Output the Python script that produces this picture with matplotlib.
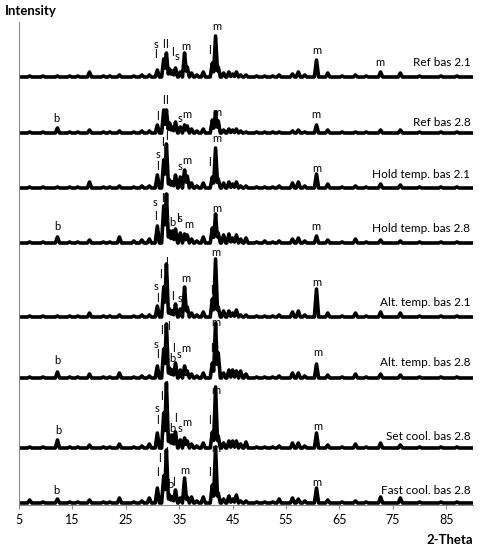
import numpy as np
import matplotlib
matplotlib.use("Agg")
import matplotlib.pyplot as plt

plt.rcParams["font.family"] = ["Lato", "DejaVu Sans"]

# 2-theta positions of the reflections
peak_pos = [7.0, 9.5, 12.2, 14.5, 16.0, 18.2, 20.8, 22.0, 23.8, 26.5, 28.0, 29.4,
            30.9, 32.1, 32.6, 33.2, 33.7, 34.3, 35.2, 36.0, 36.5, 37.3, 38.3, 39.5,
            41.2, 41.8, 42.3, 43.3, 44.3, 45.0, 45.7, 46.5, 47.5, 49.5, 51.0, 52.5,
            53.7, 56.2, 57.3, 58.5, 60.7, 62.8, 65.5, 68.0, 70.0, 72.7, 76.4, 80.0,
            84.0, 87.0]

sample_names = ["Ref bas 2.1", "Ref bas 2.8", "Hold temp. bas 2.1", "Hold temp. bas 2.8",
                "Alt. temp. bas 2.1", "Alt. temp. bas 2.8", "Set cool. bas 2.8",
                "Fast cool. bas 2.8"]

# vertical offset of each pattern (arbitrary intensity units)
offsets = [428, 372, 317, 262, 188, 127, 57, 2]

ref_21 = [1, 1, 1, 1, 1, 5, 1, 1, 2, 1, 2, 2,
          7, 18, 24, 8, 6, 9, 5, 24, 10, 4, 2, 5,
          14, 41, 10, 4, 5, 3, 5, 2, 2, 1, 1, 1,
          2, 3, 5, 2, 17, 4, 1, 2, 1, 5, 4, 1, 1, 1]
ref_28 = [1, 1, 5, 1, 1, 3, 1, 1, 2, 1, 2, 2,
          8, 23, 23, 10, 6, 11, 6, 8, 7, 4, 2, 4,
          13, 21, 12, 3, 4, 3, 4, 2, 1, 1, 1, 1,
          1, 2, 3, 1, 8, 3, 1, 1, 1, 3, 3, 1, 1, 1]
hold_21 = [1, 1, 1, 1, 1, 6, 1, 1, 2, 1, 2, 2,
           13, 28, 44, 8, 6, 13, 11, 18, 12, 5, 2, 5,
           11, 40, 9, 5, 6, 4, 6, 2, 2, 1, 1, 1,
           2, 5, 6, 2, 14, 4, 1, 2, 1, 4, 3, 1, 1, 1]
hold_28 = [1, 1, 6, 1, 1, 3, 1, 1, 6, 2, 3, 4,
           17, 37, 49, 12, 12, 14, 10, 9, 8, 4, 2, 6,
           15, 29, 10, 8, 9, 5, 8, 4, 5, 1, 2, 1,
           2, 4, 5, 2, 7, 3, 1, 4, 1, 3, 2, 1, 1, 1]
alt_21 = [1, 1, 1, 1, 1, 4, 1, 1, 2, 1, 2, 2,
          11, 30, 53, 8, 6, 13, 8, 30, 10, 4, 2, 5,
          18, 58, 10, 6, 6, 4, 7, 2, 2, 1, 1, 1,
          2, 5, 6, 2, 28, 4, 1, 4, 1, 5, 4, 1, 1, 1]
alt_28 = [1, 1, 6, 1, 1, 4, 1, 1, 5, 1, 2, 2,
          12, 29, 54, 10, 8, 15, 8, 12, 7, 4, 2, 5,
          15, 55, 25, 5, 8, 8, 7, 7, 4, 1, 1, 1,
          2, 5, 5, 2, 14, 3, 1, 4, 1, 4, 3, 1, 1, 1]
set_28 = [1, 1, 8, 1, 1, 3, 1, 1, 4, 1, 2, 4,
          15, 35, 65, 13, 13, 16, 8, 10, 7, 4, 2, 5,
          16, 61, 12, 5, 7, 7, 7, 4, 6, 1, 1, 1,
          2, 5, 5, 2, 15, 3, 1, 4, 1, 5, 3, 1, 1, 1]
fast_28 = [3, 1, 4, 1, 1, 3, 1, 1, 5, 1, 2, 5,
           15, 27, 53, 8, 6, 13, 5, 25, 6, 6, 2, 6,
           18, 56, 10, 4, 7, 4, 8, 2, 2, 1, 1, 1,
           4, 5, 4, 2, 15, 3, 1, 2, 1, 6, 5, 1, 1, 1]

patterns = [ref_21, ref_28, hold_21, hold_28, alt_21, alt_28, set_28, fast_28]

# phase marks: (letter, 2-theta, height above the pattern's baseline)
marks = [
    [("s", 30.6, 33), ("l", 30.6, 22), ("l", 32.0, 33), ("l", 32.7, 33), ("l", 33.8, 25),
     ("s", 34.6, 20), ("m", 36.2, 30), ("l", 40.7, 26), ("m", 42.0, 50), ("m", 60.7, 26),
     ("m", 72.5, 15)],
    [("b", 12.0, 15), ("l", 30.9, 16), ("l", 32.0, 32), ("l", 32.6, 32), ("s", 35.1, 15),
     ("m", 36.4, 19), ("m", 42.0, 20), ("m", 60.5, 18)],
    [("s", 31.0, 33), ("l", 30.9, 22), ("l", 31.8, 46), ("l", 32.6, 51), ("s", 35.1, 22),
     ("m", 36.5, 28), ("l", 40.7, 26), ("m", 42.0, 50), ("m", 60.7, 20)],
    [("s", 30.4, 40), ("l", 30.6, 26), ("lll", 32.3, 44), ("b", 33.7, 21), ("l", 34.6, 24),
     ("s", 35.2, 24), ("m", 36.8, 19), ("m", 42.0, 34), ("b", 12.2, 16), ("m", 60.5, 17)],
    [("l", 32.6, 55), ("l", 31.5, 43), ("s", 30.6, 30), ("l", 30.9, 18), ("l", 33.8, 21),
     ("s", 35.2, 19), ("m", 36.3, 38), ("l", 41.0, 27), ("m", 41.9, 65), ("m", 60.7, 35)],
    [("l", 31.7, 47), ("l", 32.9, 51), ("s", 30.6, 34), ("l", 30.9, 23), ("l", 34.0, 30),
     ("b", 33.7, 20), ("s", 35.0, 23), ("m", 36.3, 29), ("l", 41.0, 29), ("m", 41.9, 56),
     ("b", 12.2, 17), ("m", 60.9, 25)],
    [("l", 32.6, 62), ("l", 31.6, 51), ("s", 30.9, 39), ("l", 30.9, 27), ("l", 34.3, 29),
     ("b", 33.7, 20), ("s", 35.2, 19), ("m", 36.5, 25), ("l", 40.7, 28), ("m", 41.9, 58),
     ("b", 12.3, 17), ("m", 61.0, 22)],
    [("l", 32.7, 51), ("l", 31.3, 44), ("l", 30.9, 30), ("b", 33.4, 18), ("l", 34.0, 20),
     ("m", 36.0, 32), ("l", 40.7, 30), ("m", 41.9, 54), ("b", 12.0, 12), ("m", 60.8, 21)],
]

name_heights = [15, 11, 13, 14, 15, 16, 12, 12]


def profile(x, heights, half_width=0.4):
    # narrow triangular peak at each reflection
    y = np.zeros_like(x)
    for p, h in zip(peak_pos, heights):
        y = np.maximum(y, h * np.clip(1 - np.abs(x - p) / half_width, 0, None))
    return y


fig = plt.figure(figsize=(4.84, 5.5), dpi=100)
ax = fig.add_axes([19 / 484, 45 / 550, 454 / 484, 483 / 550])

x = np.arange(5, 90.001, 0.05)
for heights, off, name, nh, mk in zip(patterns, offsets, sample_names, name_heights, marks):
    ax.plot(x, profile(x, heights) + off, color="black", lw=2.6, zorder=2)
    ax.text(89.5, off + nh, name, ha="right", va="center", fontsize=8.5)
    for letter, xx, yy in mk:
        ax.text(xx, off + yy, letter, ha="center", va="center", fontsize=8, zorder=1)

ax.set_xlim(5, 90)
ax.set_ylim(0, 483)
ax.set_xticks(np.arange(5, 90, 10))
ax.set_yticks([])
for side in ["top", "right"]:
    ax.spines[side].set_visible(False)
ax.spines["left"].set_color("#8c8c8c")
ax.spines["bottom"].set_color("#8c8c8c")
ax.tick_params(axis="x", colors="#8c8c8c", labelcolor="black", length=3, labelsize=9)

fig.text(5 / 484, 1 - 11 / 550, "Intensity", fontsize=9.5, fontweight="bold",
         ha="left", va="center")
fig.text(473 / 484, 1 - 540 / 550, "2-Theta", fontsize=9.5, fontweight="bold",
         ha="right", va="center")

fig.savefig("out.png", dpi=100)
